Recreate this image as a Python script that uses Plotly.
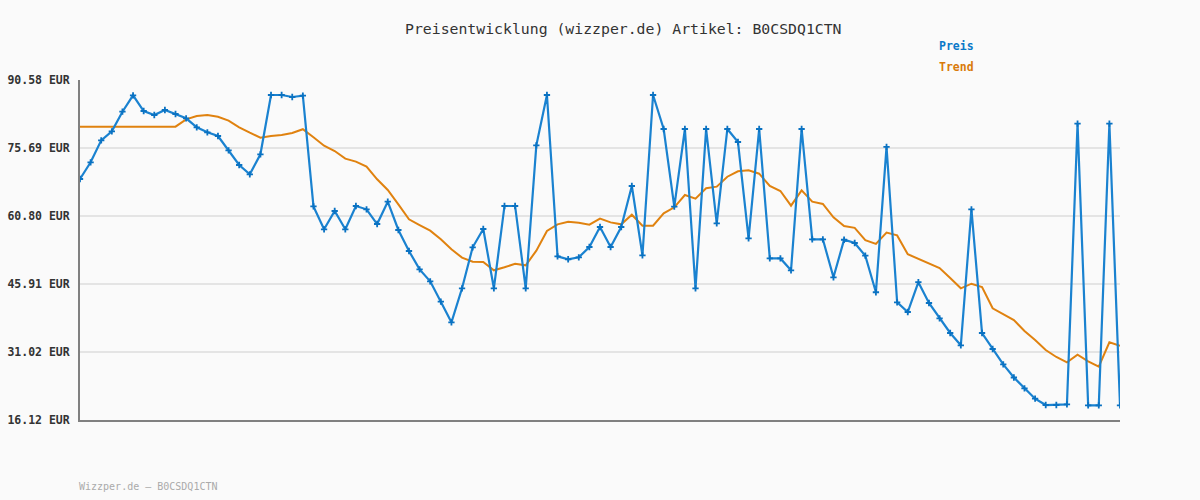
import plotly.graph_objects as go

preis = [68.9, 72.55, 77.37, 79.34, 83.64, 87.22, 83.79, 82.92, 84.01, 83.13,
         82.19, 80.22, 79.13, 78.32, 75.18, 71.97, 69.92, 74.31, 87.29, 87.29,
         86.86, 87.14, 62.91, 57.88, 61.89, 57.88, 62.99, 62.26, 59.04, 63.93,
         57.73, 53.13, 49.1, 46.49, 42.04, 37.51, 44.96, 53.94, 57.95, 44.96,
         62.99, 62.99, 44.96, 76.27, 87.29, 51.97, 51.32, 51.75, 54.01, 58.39,
         54.01, 58.39, 67.37, 52.19, 87.29, 79.85, 62.84, 79.85, 44.96, 79.85,
         59.19, 79.85, 77.0, 55.9, 79.85, 51.5, 51.5, 48.9, 79.85, 55.69,
         55.69, 47.37, 55.6, 54.88, 52.1, 44.1, 75.95, 41.9, 39.77, 46.3,
         41.74, 38.39, 35.17, 32.47, 62.26, 35.17, 31.67, 28.3, 25.43, 23.06,
         20.79, 19.4, 19.4, 19.55, 81.01, 19.33, 19.33, 81.01, 19.33]

trend = [80.36, 80.36, 80.36, 80.36, 80.36, 80.36, 80.36, 80.36, 80.36, 80.36,
         81.97, 82.7, 82.9, 82.54, 81.67, 80.22, 79.04, 77.95, 78.32, 78.54,
         78.97, 79.8, 78.03, 76.19, 75.03, 73.35, 72.7, 71.6, 68.83, 66.49,
         63.35, 60.07, 58.82, 57.58, 55.69, 53.5, 51.68, 50.8, 50.74, 48.9,
         49.56, 50.35, 49.99, 53.2, 57.51, 58.97, 59.55, 59.33, 58.9, 60.21,
         59.4, 58.97, 61.08, 58.68, 58.68, 61.38, 62.7, 65.4, 64.6, 66.86,
         67.22, 69.4, 70.58, 70.8, 70.06, 67.37, 66.27, 63.06, 66.42, 63.93,
         63.43, 60.5, 58.6, 58.2, 55.5, 54.7, 57.15, 56.55, 52.43, 51.44,
         50.28, 49.41, 47.22, 44.96, 45.97, 45.25, 40.58, 39.27, 38.02, 35.61,
         33.64, 31.45, 29.92, 28.76, 30.42, 28.98, 27.8, 33.14, 32.39]

y_ticks = [16.12, 31.02, 45.91, 60.80, 75.69, 90.58]
y_tick_labels = ["16.12 EUR", "31.02 EUR", "45.91 EUR", "60.80 EUR", "75.69 EUR", "90.58 EUR"]

title_text = "Preisentwicklung (wizzper.de) Artikel: B0CSDQ1CTN"
footer_text = "Wizzper.de – B0CSDQ1CTN"
legend_names = ["Preis", "Trend"]

BLUE = "#1a82d0"
BLUE_M = "#0a72c2"
ORANGE = "#e0820f"
MONO = "DejaVu Sans Mono"

x = list(range(len(preis)))

fig = go.Figure()
fig.add_trace(go.Scatter(x=x, y=trend, mode="lines", name=legend_names[1],
                         line=dict(color=ORANGE, width=2), hoverinfo="skip"))
fig.add_trace(go.Scatter(x=x, y=preis, mode="lines+markers", name=legend_names[0],
                         line=dict(color=BLUE, width=2.2),
                         marker=dict(symbol="cross-thin", size=4.5,
                                     line=dict(width=1.8, color=BLUE_M))))

fig.update_layout(
    width=1200, height=500,
    margin=dict(l=80, r=80, t=80, b=80),
    paper_bgcolor="#fafafa", plot_bgcolor="#fafafa",
    showlegend=False,
    font=dict(family=MONO, color="#333333"),
    xaxis=dict(range=[0, len(preis) - 1], showgrid=False, zeroline=False,
               showticklabels=False, ticks="", showline=True, automargin=False,
               linecolor="#808080", linewidth=2),
    yaxis=dict(range=[y_ticks[0], y_ticks[-1]], tickvals=y_ticks, automargin=False,
               ticktext=y_tick_labels, showgrid=True, gridcolor="#e4e4e4",
               gridwidth=2, zeroline=False, showline=True, linecolor="#808080",
               linewidth=2, ticks="", ticklabelstandoff=6,
               tickfont=dict(family=MONO, size=11.5, color="#333333", weight="bold")),
    annotations=[
        dict(text=title_text, xref="paper", yref="paper", x=0.523, y=1.1529,
             xanchor="center", yanchor="middle", showarrow=False,
             font=dict(family=MONO, size=14.8, color="#333333")),
        dict(text=legend_names[0], xref="paper", yref="paper", x=0.8240, y=1.1,
             xanchor="left", yanchor="middle", showarrow=False,
             font=dict(family=MONO, size=11.5, color="#0a78c8", weight="bold")),
        dict(text=legend_names[1], xref="paper", yref="paper", x=0.8240, y=1.0382,
             xanchor="left", yanchor="middle", showarrow=False,
             font=dict(family=MONO, size=11.5, color="#d97a0a", weight="bold")),
        dict(text=footer_text, xref="paper", yref="paper", x=-0.003, y=-0.197,
             xanchor="left", yanchor="middle", showarrow=False,
             font=dict(family=MONO, size=10, color="#aaaaaa")),
    ],
)

fig.write_html("out.html")
